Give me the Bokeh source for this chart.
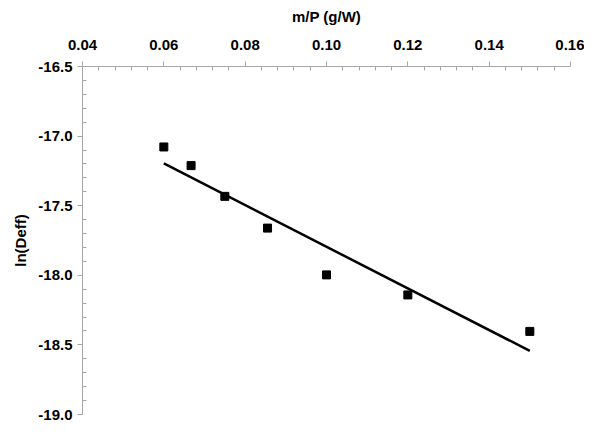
import numpy as np
from bokeh.plotting import figure
from bokeh.models import LinearAxis, FixedTicker, PrintfTickFormatter, Range1d
from bokeh.embed import file_html
from bokeh.resources import INLINE

# Data
mp = [0.060, 0.0667, 0.075, 0.0855, 0.100, 0.120, 0.150]
ln_deff = [-17.078, -17.212, -17.433, -17.661, -17.997, -18.141, -18.403]
x_ticks = [0.04, 0.06, 0.08, 0.10, 0.12, 0.14, 0.16]
y_ticks = [-16.5, -17.0, -17.5, -18.0, -18.5, -19.0]

slope, intercept = np.polyfit(mp, ln_deff, 1)
fit_x = [min(mp), max(mp)]
fit_y = [slope * v + intercept for v in fit_x]

p = figure(width=584, height=426, output_backend="svg", toolbar_location=None,
           x_range=Range1d(0.04, 0.16), y_range=Range1d(-19.0, -16.5),
           x_axis_location=None, y_axis_location=None,
           min_border_left=82, min_border_right=14, min_border_top=66, min_border_bottom=12)
p.outline_line_color = None
p.xgrid.visible = False
p.ygrid.visible = False

font = "Liberation Sans"
axis_color = "#a6a6a6"

def minor(major, n):
    out = []
    for a, b in zip(major[:-1], major[1:]):
        for k in range(1, n):
            out.append(a + (b - a) * k / n)
    return out

xs = sorted(x_ticks)
ys = sorted(y_ticks)
xa = LinearAxis(ticker=FixedTicker(ticks=x_ticks, minor_ticks=minor(xs, 5)),
                formatter=PrintfTickFormatter(format="%.2f"),
                axis_label="m/P (g/W)")
ya = LinearAxis(ticker=FixedTicker(ticks=y_ticks, minor_ticks=minor(ys, 5)),
                formatter=PrintfTickFormatter(format="%.1f"),
                axis_label="ln(Deff)")
for ax in (xa, ya):
    ax.axis_line_color = axis_color
    ax.major_tick_line_color = axis_color
    ax.minor_tick_line_color = axis_color
    ax.major_tick_in = 0
    ax.major_tick_out = 5
    ax.minor_tick_in = 4
    ax.minor_tick_out = 0
    ax.major_label_text_font = font
    ax.major_label_text_font_style = "bold"
    ax.major_label_text_font_size = "15px"
    ax.major_label_text_color = "black"
    ax.axis_label_text_font = font
    ax.axis_label_text_font_style = "bold"
    ax.axis_label_text_font_size = "15px"
    ax.axis_label_text_color = "black"
xa.major_label_standoff = 12
xa.axis_label_standoff = 12
ya.major_label_standoff = 5
ya.axis_label_standoff = 6
p.add_layout(xa, "above")
p.add_layout(ya, "left")

p.line(fit_x, fit_y, line_color="black", line_width=2.5)
p.scatter(mp, ln_deff, marker="square", size=8, fill_color="black", line_color="black")

open("out.html", "w").write(file_html(p, INLINE))
